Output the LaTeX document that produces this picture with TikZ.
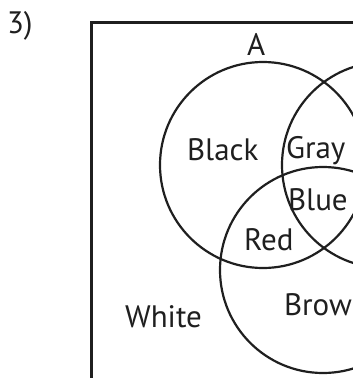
\documentclass[tikz,border=0pt]{standalone}
\usepackage{fontspec}
\setmainfont{PT Sans}
\begin{document}
\begin{tikzpicture}[x=1pt,y=-1pt,line width=2.2pt,color={black!88},
	lbl/.style={anchor=base west,inner sep=0pt,font=\fontsize{31}{33}\selectfont}]
	\useasboundingbox (0,0) rectangle (353,378);
	\clip (0,0) rectangle (353,378);
	\coordinate (cA) at (263,165);
	\coordinate (cB) at (385,165);
	\coordinate (cC) at (323,270);
	\draw[line width=3pt] (91,400) -- (91,22) -- (400,22);
	\draw (cA) circle (103);
	\draw (cB) circle (103);
	\draw (cC) circle (103);
	\node[lbl] (num) at (6,33) {3)};
	\node[lbl] (setA) at (246,55) {A};
	\node[lbl] (black) at (186,160) {Black};
	\node[lbl] (gray) at (285,158) {Gray};
	\node[lbl] (blue) at (287,210) {Blue};
	\node[lbl] (red) at (243,250) {Red};
	\node[lbl] (white) at (124,327) {White};
	\node[lbl] (brow) at (283,315) {Brow};
\end{tikzpicture}
\end{document}
